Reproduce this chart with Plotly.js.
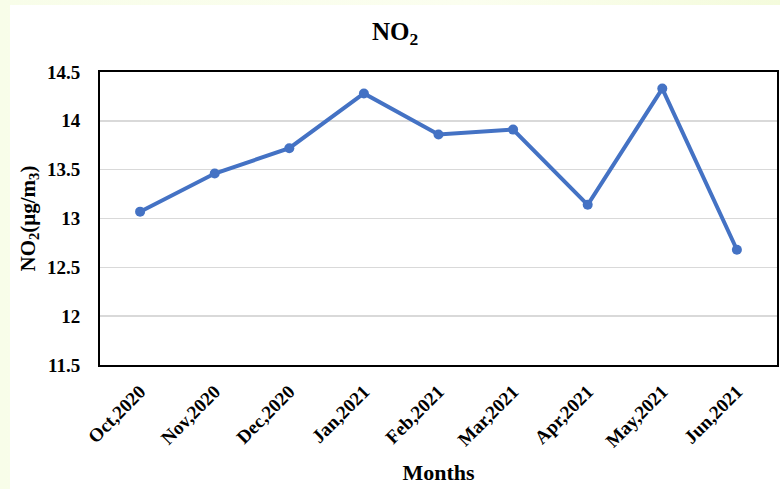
<!DOCTYPE html>
<html>
<head>
<meta charset="utf-8">
<script src="https://cdn.plot.ly/plotly-3.0.1.min.js"></script>
<style>
  html, body { margin: 0; padding: 0; width: 780px; height: 489px; overflow: hidden;
    background: linear-gradient(90deg, #f8fde9 0%, #fbfeef 60%, #f4fbdc 100%); }
  #chart { position: absolute; left: 10px; top: 5px; width: 770px; height: 484px; }
</style>
</head>
<body>
<div id="chart"></div>
<script>
const months = ["Oct,2020", "Nov,2020", "Dec,2020", "Jan,2021", "Feb,2021", "Mar,2021", "Apr,2021", "May,2021", "Jun,2021"];
const no2Values = [13.07, 13.46, 13.72, 14.28, 13.86, 13.91, 13.14, 14.33, 12.68];
const yTicks = [11.5, 12, 12.5, 13, 13.5, 14, 14.5];
const yTickLabels = ["11.5", "12", "12.5", "13", "13.5", "14", "14.5"];

const serif = "'Liberation Serif', 'DejaVu Serif', serif";

const trace = {
  x: months,
  y: no2Values,
  type: 'scatter',
  mode: 'lines+markers',
  line: { color: '#4472C4', width: 4 },
  marker: { color: '#4472C4', size: 10 },
  hoverinfo: 'x+y'
};

const layout = {
  width: 770,
  height: 484,
  paper_bgcolor: '#ffffff',
  plot_bgcolor: '#ffffff',
  margin: { l: 90, r: 3, t: 67, b: 124 },
  showlegend: false,
  title: {
    text: 'NO<sub>2</sub>',
    font: { family: serif, size: 25, color: '#000', weight: 'bold' },
    x: 0.5, xanchor: 'center', y: 0.946, yanchor: 'middle'
  },
  xaxis: {
    type: 'category',
    tickangle: -45,
    tickfont: { family: serif, size: 19, color: '#000', weight: 'bold' },
    ticklabelstandoff: 6,
    showgrid: false,
    showline: true, linecolor: '#000', linewidth: 2, mirror: true,
    ticks: '',
    title: { text: 'Months', font: { family: serif, size: 22, color: '#000', weight: 'bold' }, standoff: 14 }
  },
  yaxis: {
    range: [11.5, 14.5],
    tickvals: yTicks,
    ticktext: yTickLabels,
    tickfont: { family: serif, size: 19, color: '#000', weight: 'bold' },
    ticklabelstandoff: 14,
    showgrid: true, gridcolor: '#d9d9d9', gridwidth: 1.5,
    zeroline: false,
    showline: true, linecolor: '#000', linewidth: 2, mirror: true,
    ticks: '', ticklen: 0,
    title: { text: 'NO<sub>2</sub>(μg/m<sub>3</sub>)', font: { family: serif, size: 21, color: '#000', weight: 'bold' }, standoff: 6 }
  }
};

Plotly.newPlot('chart', [trace], layout, { displayModeBar: false, staticPlot: true });
</script>
</body>
</html>
